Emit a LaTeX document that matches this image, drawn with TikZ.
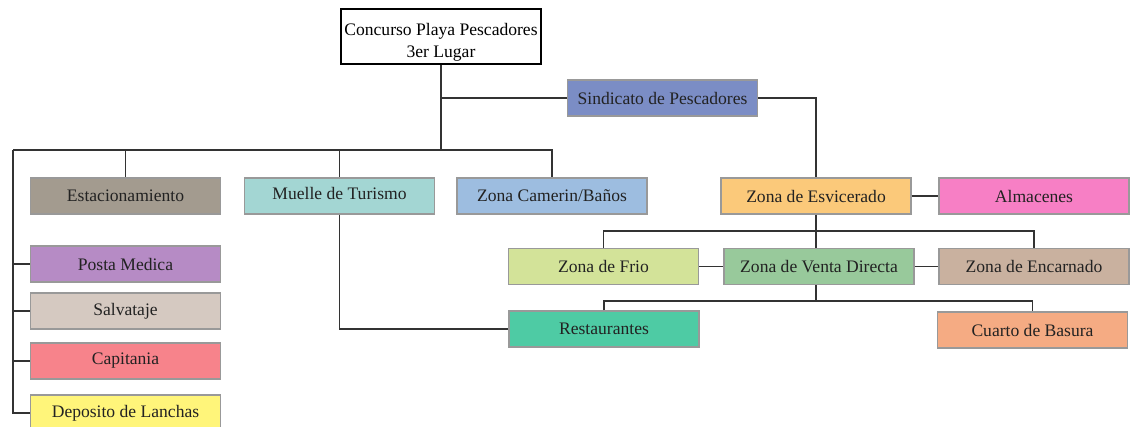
\documentclass[tikz,border=0pt]{standalone}
\usepackage{fontspec}
\setmainfont{Liberation Serif}
\definecolor{cest}{HTML}{A39B8F}
\definecolor{cmue}{HTML}{A3D6D3}
\definecolor{ccam}{HTML}{9DBDE0}
\definecolor{csin}{HTML}{7B8DC5}
\definecolor{cesv}{HTML}{FBC97A}
\definecolor{calm}{HTML}{F77FC5}
\definecolor{cfri}{HTML}{D3E399}
\definecolor{cven}{HTML}{98C99B}
\definecolor{cenc}{HTML}{C9B19F}
\definecolor{cres}{HTML}{4ECBA4}
\definecolor{ccua}{HTML}{F5AB83}
\definecolor{cpos}{HTML}{B68BC5}
\definecolor{csal}{HTML}{D5C9C1}
\definecolor{ccap}{HTML}{F7838B}
\definecolor{cdep}{HTML}{FFF57A}
\definecolor{lin}{HTML}{333333}
\definecolor{txt}{HTML}{222222}
\tikzset{
  areabox/.style={draw=black!40, line width=0.8pt, minimum width=3.8cm, minimum height=0.72cm, inner sep=0pt, font=\fontsize{10}{12}\selectfont, text=txt},
  topbox/.style={draw=black, fill=white, line width=0.7pt, minimum width=4cm, minimum height=1.1cm, inner sep=0pt, font=\fontsize{10}{12.5}\selectfont},
  conn/.style={draw=lin, line width=0.75pt}
}
\begin{document}
\begin{tikzpicture}[x=0.02cm,y=-0.02cm]
\useasboundingbox (0,0) rectangle (1132,426);
\node[topbox] (top) at (441,36.5) {\raisebox{-5.8pt}[0pt][0pt]{\begin{tabular}{@{}c@{}}Concurso Playa Pescadores\\3er Lugar\end{tabular}}};
\node[areabox, fill=csin] (sind) at (662.5,98) {Sindicato de Pescadores};
\node[areabox, fill=cest] (est) at (125.5,196) {Estacionamiento};
\node[areabox, fill=cmue] (muelle) at (339.5,196) {\raisebox{3pt}{Muelle de Turismo}};
\node[areabox, fill=ccam] (camerin) at (552,196) {Zona Camerin/Baños};
\node[areabox, fill=cesv] (esv) at (816,196) {Zona de Esvicerado};
\node[areabox, fill=calm] (alm) at (1034,196) {Almacenes};
\node[areabox, fill=cfri] (frio) at (603.5,266.5) {Zona de Frio};
\node[areabox, fill=cven] (venta) at (819,266.5) {Zona de Venta Directa};
\node[areabox, fill=cenc] (enc) at (1034,266.5) {Zona de Encarnado};
\node[areabox, fill=cres] (rest) at (604,329) {Restaurantes};
\node[areabox, fill=ccua] (cuarto) at (1032.5,330) {Cuarto de Basura};
\node[areabox, fill=cpos] (posta) at (125.5,264) {Posta Medica};
\node[areabox, fill=csal] (salv) at (125.5,311) {Salvataje};
\node[areabox, fill=ccap] (cap) at (125.5,361) {Capitania};
\node[areabox, fill=cdep] (dep) at (125.5,413) {Deposito de Lanchas};
\coordinate (busL) at (13,150);
\coordinate (b2) at (0,231);
\coordinate (b3) at (0,301);
% main hierarchy
\draw[conn] (top.south) -- (top.south |- busL);
\draw[conn] (top.south |- sind.west) -- (sind.west);
\draw[conn] (busL) -- (camerin.north |- busL) -- (camerin.north);
\draw[conn] (est.north |- busL) -- (est.north);
\draw[conn] (muelle.north |- busL) -- (muelle.north);
\draw[conn] (busL) |- (dep.west);
\draw[conn] (busL |- posta.west) -- (posta.west);
\draw[conn] (busL |- salv.west) -- (salv.west);
\draw[conn] (busL |- cap.west) -- (cap.west);
\draw[conn] (muelle.south) |- (rest.west);
% right side
\draw[conn] (sind.east) -| (esv.north);
\draw[conn] (esv.east) -- (alm.west);
\draw[conn] (esv.south) -- (esv.south |- venta.north);
\draw[conn] (frio.north) |- (b2 -| enc.north) -- (enc.north);
\draw[conn] (frio.east) -- (venta.west);
\draw[conn] (venta.east) -- (enc.west);
\draw[conn] (esv.south |- venta.south) -- (esv.south |- b3);
\draw[conn] (rest.north) |- (b3 -| cuarto.north) -- (cuarto.north);
\end{tikzpicture}
\end{document}
